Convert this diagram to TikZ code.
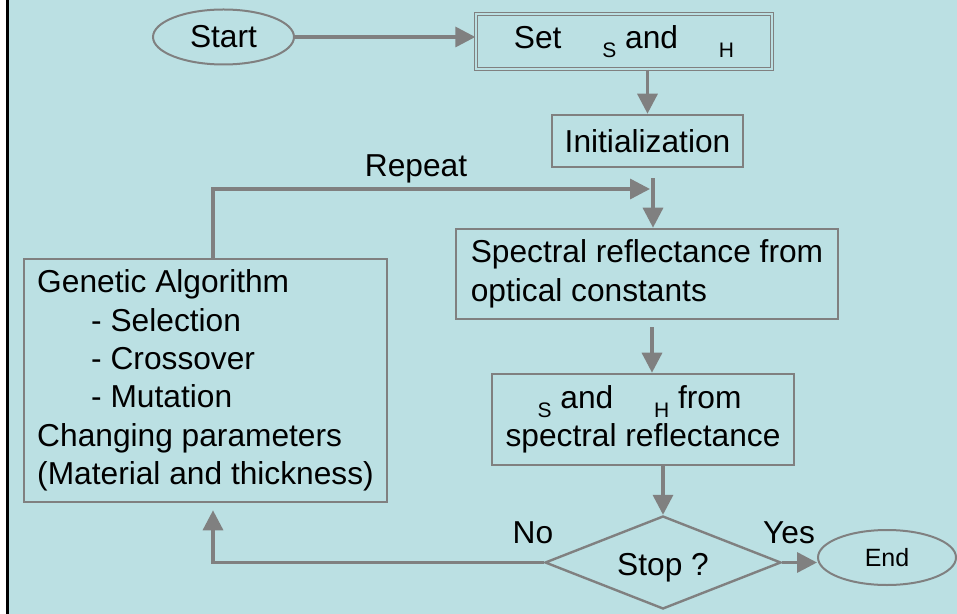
\documentclass[tikz,border=0pt]{standalone}
\usepackage{fontspec}
\setmainfont{Liberation Sans}
\usetikzlibrary{shapes.geometric,arrows.meta}
\definecolor{panel}{HTML}{BBE0E3}
\definecolor{edge}{HTML}{808080}
\newcommand{\epsgap}{\hspace*{16pt}}
\newcommand{\lowsub}[1]{\raisebox{-4.5pt}{\fontsize{10.5}{11}\selectfont #1}}

\begin{document}
\begin{tikzpicture}
[x=0.5pt,y=-0.5pt,
 every node/.style={font=\fontsize{15.85}{19.2}\selectfont,inner sep=0pt},
 box/.style={draw=edge,line width=1.3pt},
 oval/.style={ellipse,draw=edge,line width=1pt},
 flow/.style={draw=edge,line width=1.7pt,-{Triangle[length=10pt,width=10pt]}}]
\useasboundingbox (0,0) rectangle (957,614);
\fill[white] (0,0) rectangle (957,614);
\fill[panel] (6,0) rectangle (957,614);
\draw[black,line width=1.5pt] (7.5,0) -- (7.5,614);
% steps of the loop
\node[oval,minimum width=70.5pt,minimum height=27.5pt] (start) at (223.5,37) {Start};
\node[box,double=panel,double distance=1pt,line width=0.7pt,minimum width=148pt,minimum height=27.5pt] (setpar) at (624,41.5) {Set \epsgap\lowsub{S} and \epsgap\lowsub{H}};
\node[box,minimum width=95.5pt,minimum height=26pt] (init) at (647.5,141) {Initialization};
\node[box,align=left,minimum width=191pt,minimum height=45pt] (spec) at (647,274) {Spectral reflectance from\\optical constants};
\node[box,align=left,minimum width=151pt,minimum height=45.5pt] (calc) at (643,419.5) {\epsgap\lowsub{S} and \epsgap\lowsub{H} from\\spectral reflectance};
\node[box,align=left,minimum width=181.5pt,minimum height=121.5pt] (ga) at (205.5,380.5) {Genetic Algorithm\\\hspace*{27pt}- Selection\\\hspace*{27pt}- Crossover\\\hspace*{27pt}- Mutation\\Changing parameters\\(Material and thickness)};
\node[diamond,draw=edge,line width=1.2pt,aspect=2.5,minimum width=118pt,minimum height=46.5pt] (stop) at (663,562.5) {\raisebox{-2.5pt}[\height][\depth]{Stop ?}};
\node[oval,minimum width=69pt,minimum height=27.5pt,font=\fontsize{12.5}{15}\selectfont] (finish) at (887,557.5) {End};
\coordinate (join) at (650,189);
% labels
\node (repeatlbl) at (416,169) {Repeat};
\node (nolbl) at (533,533) {No};
\node (yeslbl) at (789,533) {Yes};
% arrows
\draw[flow] (start.east) -- (start.east -| setpar.west);
\foreach \from/\to in {setpar.south -| init.north/init.north,calc.south -| stop.north/stop.north,stop.east/stop.east -| finish.west}
\draw[flow] (\from) -- (\to);
\draw[flow,shorten <=5pt] ([xshift=2.75pt]init.south) -- ([xshift=3pt]spec.north);
\draw[flow,shorten <=3.5pt] ([xshift=2.5pt]spec.south) -- ([xshift=4.5pt]calc.north);
\draw[flow,shorten >=3.5pt] (stop.west) -| ([xshift=3.75pt]ga.south);
\draw[flow] ([xshift=3.75pt]ga.north) |- (join);
\end{tikzpicture}
\end{document}
